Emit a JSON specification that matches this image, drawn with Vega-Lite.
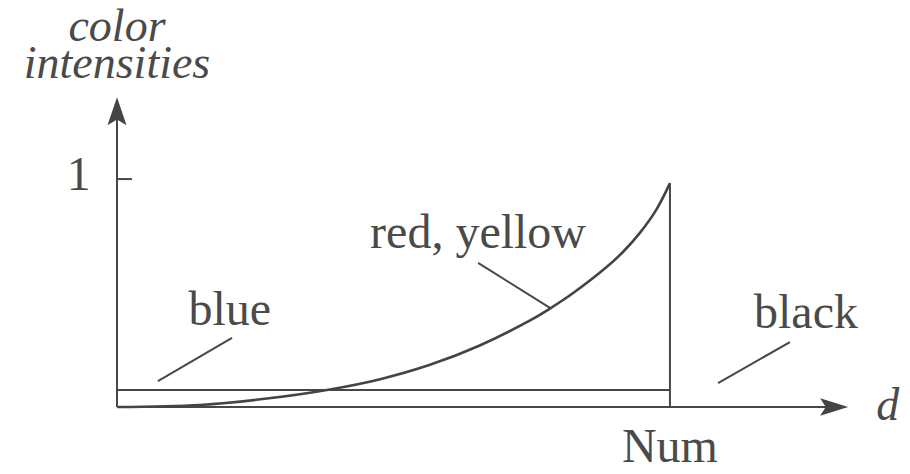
{
  "$schema": "https://vega.github.io/schema/vega-lite/v6.json",
  "width": 731,
  "height": 310,
  "autosize": {"type": "none"},
  "padding": {"left": 117, "top": 97, "right": 62, "bottom": 67},
  "background": "white",
  "config": {"view": {"stroke": null}},
  "datasets": {
    "rules": [
      {"part": "x axis", "x": 0, "y": 0, "x2": 1.305, "y2": 0},
      {"part": "y axis", "x": 0, "y": 0, "x2": 0, "y2": 1.34},
      {"part": "tick 1", "x": 0, "y": 1, "x2": 0.027, "y2": 1},
      {"part": "blue", "x": 0, "y": 0.075, "x2": 1, "y2": 0.075},
      {"part": "edge", "x": 1, "y": 0, "x2": 1, "y2": 0.982},
      {"part": "blue leader", "x": 0.074, "y": 0.114, "x2": 0.208, "y2": 0.303},
      {"part": "red leader", "x": 0.653, "y": 0.632, "x2": 0.783, "y2": 0.435},
      {"part": "black leader", "x": 1.087, "y": 0.105, "x2": 1.217, "y2": 0.285}
    ],
    "curve": [
      {"d": 0, "v": 0},
      {"d": 0.15, "v": 0.009},
      {"d": 0.271, "v": 0.037},
      {"d": 0.385, "v": 0.077},
      {"d": 0.476, "v": 0.122},
      {"d": 0.566, "v": 0.185},
      {"d": 0.656, "v": 0.27},
      {"d": 0.747, "v": 0.38},
      {"d": 0.783, "v": 0.432},
      {"d": 0.825, "v": 0.5},
      {"d": 0.886, "v": 0.615},
      {"d": 0.915, "v": 0.68},
      {"d": 0.946, "v": 0.765},
      {"d": 0.976, "v": 0.868},
      {"d": 1.0, "v": 0.982}
    ],
    "arrows": [
      {"dir": "up", "x": 0, "y": 1.298},
      {"dir": "right", "x": 1.297, "y": 0}
    ],
    "labels": [
      {"label": "1", "x": -0.069, "y": 0.952},
      {"label": "blue", "x": 0.204, "y": 0.36},
      {"label": "red, yellow", "x": 0.653, "y": 0.697},
      {"label": "black", "x": 1.246, "y": 0.346},
      {"label": "Num", "x": 1.0, "y": -0.241}
    ],
    "italic": [
      {"label": "color", "x": 0.0, "y": 1.605},
      {"label": "intensities", "x": 0.0, "y": 1.443},
      {"label": "d", "x": 1.394, "y": -0.057}
    ]
  },
  "layer": [
    {
      "data": {"name": "rules"},
      "mark": {"type": "rule", "color": "#474747", "strokeWidth": 2},
      "encoding": {
        "x": {"field": "x", "type": "quantitative", "scale": {"domain": [0, 1.322], "nice": false, "zero": false}, "axis": null},
        "y": {"field": "y", "type": "quantitative", "scale": {"domain": [0, 1.36], "nice": false, "zero": false}, "axis": null},
        "x2": {"field": "x2"},
        "y2": {"field": "y2"}
      }
    },
    {
      "data": {"name": "curve"},
      "mark": {"type": "line", "color": "#444444", "strokeWidth": 2.6, "interpolate": "catmull-rom"},
      "encoding": {
        "x": {"field": "d", "type": "quantitative"},
        "y": {"field": "v", "type": "quantitative"}
      }
    },
    {
      "data": {"name": "arrows"},
      "mark": {"type": "point", "filled": true, "color": "#444444", "opacity": 1, "size": 784},
      "encoding": {
        "x": {"field": "x", "type": "quantitative"},
        "y": {"field": "y", "type": "quantitative"},
        "shape": {
          "field": "dir",
          "type": "nominal",
          "scale": {"domain": ["up", "right"], "range": ["M0,-1L0.68,1L0,0.6L-0.68,1Z", "M1,0L-1,-0.62L-0.6,0L-1,0.62Z"]},
          "legend": null
        }
      }
    },
    {
      "data": {"name": "labels"},
      "mark": {"type": "text", "font": "Liberation Serif", "fontSize": 48, "color": "#4a4a4a", "align": "center", "baseline": "alphabetic"},
      "encoding": {
        "x": {"field": "x", "type": "quantitative"},
        "y": {"field": "y", "type": "quantitative"},
        "text": {"field": "label"}
      }
    },
    {
      "data": {"name": "italic"},
      "mark": {"type": "text", "font": "Liberation Serif", "fontStyle": "italic", "fontSize": 46, "color": "#4a4a4a", "align": "center", "baseline": "alphabetic"},
      "encoding": {
        "x": {"field": "x", "type": "quantitative"},
        "y": {"field": "y", "type": "quantitative"},
        "text": {"field": "label"}
      }
    }
  ]
}
